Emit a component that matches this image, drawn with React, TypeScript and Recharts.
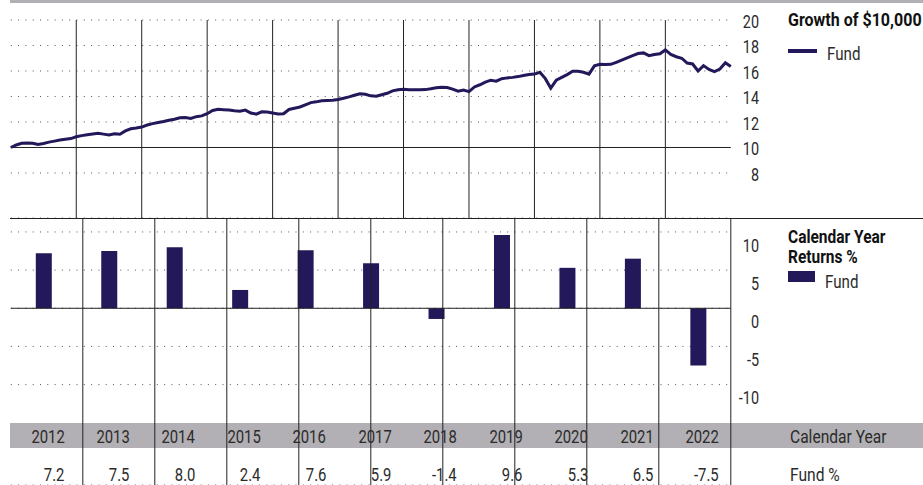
import {
  LineChart,
  Line,
  BarChart,
  Bar,
  XAxis,
  YAxis,
  CartesianGrid,
  ReferenceLine,
} from "recharts";

const YEARS = ["2012", "2013", "2014", "2015", "2016", "2017", "2018", "2019", "2020", "2021", "2022"];
const RETURNS = [7.2, 7.5, 8.0, 2.4, 7.6, 5.9, -1.4, 9.6, 5.3, 6.5, -7.5];

// month-end value of $10,000 (thousands), Dec 2011 .. Dec 2022
const GROWTH = [
  10.0, 10.2, 10.33, 10.35, 10.33, 10.23, 10.32, 10.42, 10.5, 10.58, 10.64, 10.7,
  10.84, 10.93, 11.0, 11.06, 11.12, 11.05, 10.98, 11.07, 11.04, 11.3, 11.47, 11.53,
  11.6, 11.76, 11.87, 11.96, 12.04, 12.14, 12.22, 12.33, 12.36, 12.28, 12.42, 12.48,
  12.65, 12.9, 13.0, 12.97, 12.94, 12.88, 12.85, 12.93, 12.7, 12.62, 12.8, 12.78,
  12.7, 12.62, 12.65, 12.98, 13.08, 13.18, 13.35, 13.52, 13.58, 13.66, 13.69, 13.7,
  13.77, 13.86, 13.97, 14.1, 14.22, 14.17, 14.05, 14.02, 14.14, 14.25, 14.44, 14.53,
  14.56, 14.53, 14.52, 14.52, 14.54, 14.6, 14.68, 14.73, 14.71, 14.58, 14.42, 14.5,
  14.38, 14.75, 14.92, 15.12, 15.28, 15.2, 15.4, 15.46, 15.5, 15.56, 15.65, 15.73,
  15.76, 15.9, 15.4, 14.65, 15.28, 15.5, 15.72, 15.98, 15.98, 15.9, 15.75, 16.4,
  16.52, 16.5, 16.52, 16.68, 16.85, 17.03, 17.2, 17.37, 17.42, 17.2, 17.3, 17.35,
  17.65, 17.3, 17.12, 17.0, 16.62, 16.55, 16.0, 16.42, 16.12, 15.95, 16.15, 16.65,
  16.35,
];

const GROWTH_TICKS = [8, 10, 12, 14, 16, 18, 20];
const RETURN_TICKS = [-10, -5, 0, 5, 10];

const W = 923;
const PLOT_L = 10.8;
const PLOT_R = 730.8;
const AXIS_W = 40;
const COL_W = (PLOT_R - PLOT_L) / YEARS.length;
const TOP_H = 218;
const BOT_H = 485 - TOP_H;

const NAVY = "#22185a";
const INK = "#2b2b2b";
const LINE = "#222";
const BAND = "#b2b0b4";
const FONT = "Roboto, 'Noto Sans', sans-serif";
// no condensed face is installed, so squeeze Roboto horizontally
const NARROW = 0.8;

const growthData = GROWTH.map((v, i) => ({ m: i, v }));
const returnData = YEARS.map((year, i) => ({ year, ret: RETURNS[i] }));
const monthBreaks = YEARS.slice(1).map((_, i) => (i + 1) * 12);
const colBreaks = YEARS.slice(1).map((_, i) => i + 1);

function RightTick(props: any) {
  const { x, y, payload, shift = 0 } = props;
  return (
    <text
      transform={`translate(${x + 28.2},${y + shift}) scale(${NARROW},1)`}
      dy="0.355em"
      textAnchor="end"
      fontSize={18}
      fill={INK}
      fontFamily={FONT}
    >
      {payload.value}
    </text>
  );
}

type TxtProps = {
  left: number;
  top: number;
  size?: number;
  bold?: boolean;
  width?: number;
  scale?: number;
  lh?: number;
  children: any;
};

function Txt({ left, top, size = 18, bold, width, scale = NARROW, lh, children }: TxtProps) {
  const right = width !== undefined;
  return (
    <div
      style={{
        position: "absolute",
        left,
        top,
        width,
        textAlign: right ? "right" : "left",
        fontSize: size,
        lineHeight: `${lh ?? size}px`,
        fontWeight: bold ? 700 : 400,
        color: bold ? "#111" : INK,
        whiteSpace: "nowrap",
        zIndex: 3,
      }}
    >
      <span
        style={{
          display: "inline-block",
          transform: `scaleX(${scale})`,
          transformOrigin: right ? "right center" : "left center",
        }}
      >
        {children}
      </span>
    </div>
  );
}

const box = (left: number, top: number, width: number, height: number, background: string, zIndex = 0) => (
  <div style={{ position: "absolute", left, top, width, height, background, zIndex }} />
);

export default function App() {
  const margin = { top: 20, right: W - PLOT_R - AXIS_W, bottom: 0, left: PLOT_L };
  return (
    <div
      style={{
        position: "absolute",
        left: 0,
        top: 0,
        width: W,
        height: 485,
        background: "#fff",
        fontFamily: FONT,
        color: INK,
      }}
    >
      {/* header rule and table band, under the chart lines */}
      {box(10, 0, W - 10, 3, BAND)}
      {box(10, 423, W - 10, 25, BAND)}

      <div style={{ position: "absolute", left: 0, top: 0, zIndex: 1 }}>
        <LineChart width={W} height={TOP_H} data={growthData} margin={margin}>
          <XAxis dataKey="m" type="number" domain={[0, 132]} hide />
          <YAxis
            orientation="right"
            domain={[4.47, 20]}
            ticks={GROWTH_TICKS}
            allowDataOverflow
            width={AXIS_W}
            axisLine={false}
            tickLine={false}
            tickSize={0}
            tickMargin={0}
            tick={<RightTick shift={1.4} />}
          />
          <CartesianGrid vertical={false} stroke="#555" strokeDasharray="1 6.3" />
          <ReferenceLine y={10} stroke={LINE} />
          {monthBreaks.map((m) => (
            <ReferenceLine key={m} x={m} stroke={LINE} />
          ))}
          <Line
            type="linear"
            dataKey="v"
            stroke={NAVY}
            strokeWidth={3}
            dot={false}
            isAnimationActive={false}
          />
        </LineChart>
      </div>

      {/* separator between panels */}
      {box(10, TOP_H - 0.5, W - 10, 1, LINE, 2)}

      <div style={{ position: "absolute", left: 0, top: TOP_H, zIndex: 1 }}>
        <BarChart
          width={W}
          height={BOT_H}
          data={returnData}
          margin={{ ...margin, top: 0 }}
          barCategoryGap={0}
        >
          <XAxis dataKey="year" hide />
          <XAxis xAxisId="cols" type="number" domain={[0, YEARS.length]} hide />
          <YAxis
            orientation="right"
            domain={[-23.16, 11.83]}
            ticks={RETURN_TICKS}
            allowDataOverflow
            width={AXIS_W}
            axisLine={false}
            tickLine={false}
            tickSize={0}
            tickMargin={0}
            tick={<RightTick shift={13.5} />}
          />
          <CartesianGrid vertical={false} stroke="#555" strokeDasharray="1 6.3" />
          <ReferenceLine y={0} stroke={LINE} />
          {colBreaks.map((c) => (
            <ReferenceLine key={c} xAxisId="cols" x={c} stroke={LINE} />
          ))}
          <Bar dataKey="ret" fill={NAVY} barSize={16} isAnimationActive={false} />
        </BarChart>
      </div>

      {/* legends */}
      <Txt left={788} top={11.2} bold scale={0.89}>
        Growth of $10,000
      </Txt>
      {box(788, 49, 29, 3.5, NAVY)}
      <Txt left={826.5} top={44.5} scale={0.84}>
        Fund
      </Txt>

      <Txt left={788} top={227.2} bold scale={0.86} lh={19.5}>
        Calendar Year
        <br />
        Returns %
      </Txt>
      {box(788, 271, 27, 10.5, NAVY)}
      <Txt left={824.5} top={272.9} scale={0.84}>
        Fund
      </Txt>

      {/* table rows */}
      {YEARS.map((y, i) => (
        <Txt key={y} left={PLOT_L + i * COL_W} top={426.7} width={COL_W - 12} size={19} scale={0.78}>
          {y}
        </Txt>
      ))}
      <Txt left={790} top={426.7} size={19} scale={0.82}>
        Calendar Year
      </Txt>
      {RETURNS.map((r, i) => (
        <Txt key={YEARS[i]} left={PLOT_L + i * COL_W} top={467.2} width={COL_W - 12} size={19} scale={0.78} lh={16}>
          {r.toFixed(1)}
        </Txt>
      ))}
      <Txt left={790} top={467.2} size={19} scale={0.82} lh={16}>
        Fund %
      </Txt>
    </div>
  );
}
